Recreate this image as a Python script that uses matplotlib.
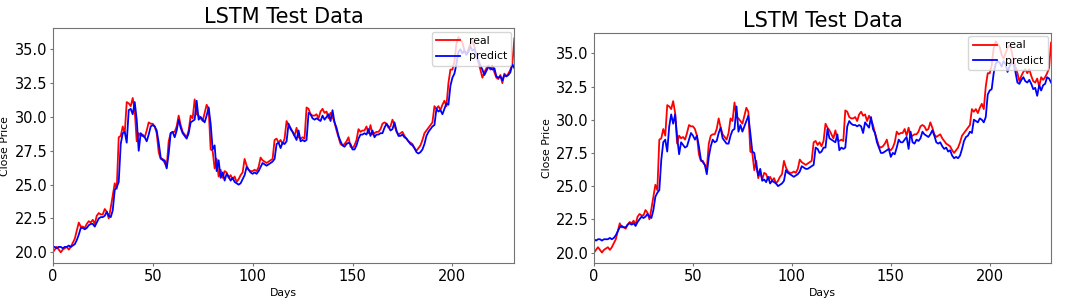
import matplotlib
matplotlib.use("Agg")
import matplotlib.pyplot as plt

# closing prices (same real series in both panels)
real = [
    20.0, 20.2, 20.4, 20.2, 20.0, 20.2, 20.3, 20.4, 20.2, 20.4,
    20.7, 21.0, 21.6, 22.2, 21.9, 21.9, 21.8, 22.1, 22.3, 22.2,
    22.4, 22.1, 22.7, 22.9, 22.8, 22.8, 23.2, 23.0, 22.5, 23.3,
    24.2, 25.1, 24.7, 28.5, 28.6, 29.3, 28.8, 31.1, 31.0, 30.8,
    31.4, 30.5, 28.2, 28.8, 28.6, 28.7, 28.5, 29.0, 29.6, 29.5,
    29.5, 29.3, 28.8, 27.4, 26.9, 26.9, 26.6, 26.3, 28.2, 28.8,
    28.9, 28.9, 29.3, 30.1, 29.4, 28.9, 28.7, 28.5, 29.0, 30.1,
    29.9, 31.3, 30.2, 30.1, 29.9, 29.7, 30.3, 30.9, 30.6, 27.6,
    27.5, 26.2, 26.9, 25.6, 26.1, 25.5, 26.0, 25.9, 25.5, 25.7,
    25.4, 25.6, 25.2, 25.4, 25.7, 25.9, 26.9, 26.4, 26.1, 26.0,
    26.0, 26.1, 26.0, 26.3, 27.0, 26.8, 26.7, 26.6, 26.7, 26.8,
    26.9, 28.3, 28.4, 28.1, 28.3, 28.0, 28.4, 29.7, 29.4, 29.2,
    28.9, 28.6, 29.2, 28.5, 28.4, 28.5, 28.4, 30.7, 30.6, 30.2,
    30.1, 30.1, 30.2, 29.9, 30.4, 30.6, 30.3, 30.4, 29.9, 30.3,
    30.0, 29.6, 29.0, 28.5, 28.0, 27.9, 28.0, 28.2, 28.5, 27.8,
    27.7, 27.9, 28.3, 29.1, 28.9, 29.0, 29.0, 29.3, 28.8, 29.4,
    28.7, 28.8, 28.9, 28.9, 29.1, 29.5, 29.6, 29.5, 29.2, 29.3,
    29.8, 29.4, 28.9, 28.7, 28.8, 28.9, 28.6, 28.4, 28.2, 28.1,
    28.0, 27.7, 27.5, 27.7, 27.9, 28.3, 28.8, 29.0, 29.2, 29.4,
    29.6, 30.8, 30.6, 30.8, 30.5, 30.9, 31.2, 30.8, 32.5, 33.5,
    33.5, 34.1, 35.4, 35.9, 35.7, 35.5, 34.9, 34.6, 35.0, 35.4,
    35.6, 35.2, 34.5, 34.0, 33.5, 32.9, 33.3, 33.6, 33.8, 33.5,
    33.8, 33.3, 32.9, 32.8, 33.1, 32.5, 33.2, 33.0, 33.2, 33.5,
    33.9, 35.8,
]

# left panel prediction
predict_a = [
    20.4, 20.4, 20.3, 20.4, 20.4, 20.3, 20.4, 20.4, 20.5, 20.4,
    20.5, 20.6, 20.9, 21.3, 21.8, 21.8, 21.7, 21.8, 22.0, 22.1,
    22.1, 21.9, 22.2, 22.5, 22.6, 22.6, 22.7, 23.0, 22.7, 22.6,
    23.1, 24.6, 24.8, 25.2, 28.0, 28.8, 28.9, 28.1, 30.5, 30.6,
    30.2, 31.1, 29.8, 27.5, 28.8, 28.6, 28.5, 28.2, 28.7, 29.3,
    29.4, 29.3, 29.0, 28.1, 27.0, 26.8, 26.8, 26.2, 27.3, 28.8,
    28.9, 28.5, 29.0, 29.8, 29.2, 28.8, 28.6, 28.4, 28.8, 29.6,
    29.7, 29.8, 31.2, 29.8, 30.0, 29.8, 29.6, 30.1, 30.7, 29.5,
    27.6, 27.9, 26.0, 26.8, 25.5, 25.9, 25.3, 25.8, 25.6, 25.3,
    25.5, 25.2, 25.1, 25.0, 25.1, 25.4, 25.7, 26.3, 26.1, 25.9,
    25.8, 25.9, 25.8, 26.0, 26.3, 26.6, 26.5, 26.4, 26.5, 26.6,
    26.7, 26.9, 28.0, 28.1, 27.7, 28.1, 28.0, 28.2, 29.5, 29.1,
    28.9, 28.6, 28.3, 29.0, 28.2, 28.3, 28.2, 28.3, 30.3, 30.2,
    29.9, 29.8, 29.9, 29.8, 29.7, 30.1, 29.8, 30.0, 30.2, 29.7,
    30.5, 29.6, 29.2, 28.6, 28.2, 27.9, 27.8, 28.0, 28.1, 28.0,
    27.6, 27.6, 27.9, 28.4, 28.7, 28.7, 28.8, 28.7, 29.1, 28.6,
    29.0, 28.5, 28.7, 28.7, 28.8, 28.8, 29.2, 29.5, 29.3, 29.0,
    29.1, 29.6, 29.0, 28.6, 28.6, 28.7, 28.5, 28.4, 28.2, 28.0,
    27.9, 27.7, 27.4, 27.3, 27.4, 27.6, 28.0, 28.6, 28.9, 29.1,
    29.3, 29.4, 30.6, 30.4, 30.5, 30.2, 30.6, 31.0, 30.9, 32.3,
    32.9, 33.2, 33.9, 34.8, 35.0, 34.7, 34.9, 34.6, 34.8, 35.2,
    34.9, 35.0, 34.6, 34.2, 33.8, 33.5, 33.1, 33.4, 33.7, 33.6,
    33.5, 33.6, 33.0, 32.9, 33.0, 32.7, 33.1, 33.0, 33.1, 33.3,
    33.9, 33.6,
]

# right panel prediction
predict_b = [
    21.0, 20.9, 21.0, 21.0, 20.9, 21.0, 21.0, 21.0, 21.1, 21.0,
    21.1, 21.3, 21.6, 21.9, 22.0, 21.9, 21.9, 22.1, 22.2, 22.1,
    22.2, 22.0, 22.3, 22.5, 22.7, 22.6, 22.7, 22.9, 22.7, 22.6,
    23.2, 24.2, 24.5, 24.7, 27.0, 28.3, 28.5, 27.6, 29.5, 30.4,
    29.7, 30.4, 28.7, 27.4, 28.3, 28.1, 27.9, 28.0, 28.5, 29.0,
    28.8, 28.5, 28.8, 28.0, 27.0, 26.8, 26.6, 25.9, 27.2, 28.0,
    28.5, 28.3, 28.4, 29.0, 29.4, 28.6, 28.4, 28.2, 28.2, 28.8,
    29.2, 29.3, 31.0, 29.1, 29.6, 29.1, 29.5, 29.9, 30.3, 29.0,
    27.6, 27.5, 26.5, 25.8, 26.3, 25.4, 25.5, 25.3, 25.7, 25.2,
    25.4, 25.3, 25.2, 25.0, 25.1, 25.2, 25.4, 26.2, 26.0, 25.9,
    25.8, 25.7, 25.8, 25.9, 26.1, 26.5, 26.4, 26.3, 26.3, 26.4,
    26.5, 26.6, 27.9, 27.8, 27.5, 27.6, 27.9, 27.9, 29.3, 28.6,
    28.5, 28.4, 28.3, 28.9, 27.7, 27.9, 27.8, 27.9, 29.5, 29.9,
    29.7, 29.6, 29.6, 29.5, 29.6, 29.5, 29.0, 29.8, 29.6, 29.4,
    30.2, 29.3, 29.0, 28.3, 27.9, 27.5, 27.5, 27.6, 27.7, 27.8,
    27.2, 27.5, 27.4, 27.9, 28.5, 28.3, 28.3, 28.5, 28.7, 27.8,
    29.1, 28.3, 28.2, 28.5, 28.4, 28.6, 29.1, 28.9, 28.8, 28.7,
    28.9, 29.2, 28.8, 28.3, 28.2, 28.3, 28.0, 27.8, 27.9, 27.6,
    27.7, 27.3, 27.1, 27.2, 27.1, 27.3, 27.8, 28.4, 28.7, 28.8,
    29.1, 29.0, 30.0, 29.9, 29.8, 30.1, 30.0, 29.8, 30.2, 31.9,
    32.2, 32.3, 33.5, 34.2, 34.4, 34.3, 34.0, 34.4, 34.2, 33.6,
    34.0, 34.3, 34.2, 33.6, 32.8, 32.7, 33.0, 33.2, 32.9, 32.8,
    33.0, 32.7, 32.3, 32.4, 31.8, 32.6, 32.2, 32.6, 32.7, 33.2,
    33.1, 32.8,
]

days = list(range(len(real)))

fig = plt.figure(figsize=(10.84, 3.01), dpi=100)
ax1 = fig.add_axes([0.0487, 0.1253, 0.4258, 0.7807])
ax2 = fig.add_axes([0.548, 0.1253, 0.4216, 0.766])

for ax, pred in [(ax1, predict_a), (ax2, predict_b)]:
    ax.plot(days, real, color="red", lw=1.3, label="real")
    ax.plot(days, pred, color="blue", lw=1.3, label="predict")
    ax.set_xlim(0, len(real) - 1)
    ax.set_ylim(19.19, 36.55)
    ax.set_xticks([0, 50, 100, 150, 200])
    ax.set_yticks([20.0, 22.5, 25.0, 27.5, 30.0, 32.5, 35.0])
    ax.set_yticklabels(["20.0", "22.5", "25.0", "27.5", "30.0", "32.5", "35.0"])
    ax.tick_params(labelsize=10.5, length=2, color="0.45", pad=1.8)
    for s in ax.spines.values():
        s.set_color("0.45")
    ax.set_title("LSTM Test Data", fontsize=15, pad=4)
    ax.set_xlabel("Days", fontsize=7.8, labelpad=3)
    ax.set_ylabel("Close Price", fontsize=7.8)
    ax.yaxis.set_label_coords(-0.092, 0.5)
    ax.legend(loc="upper right", fontsize=7.8, borderaxespad=0.3,
              handlelength=2.2)

plt.savefig("out.png", dpi=100)
